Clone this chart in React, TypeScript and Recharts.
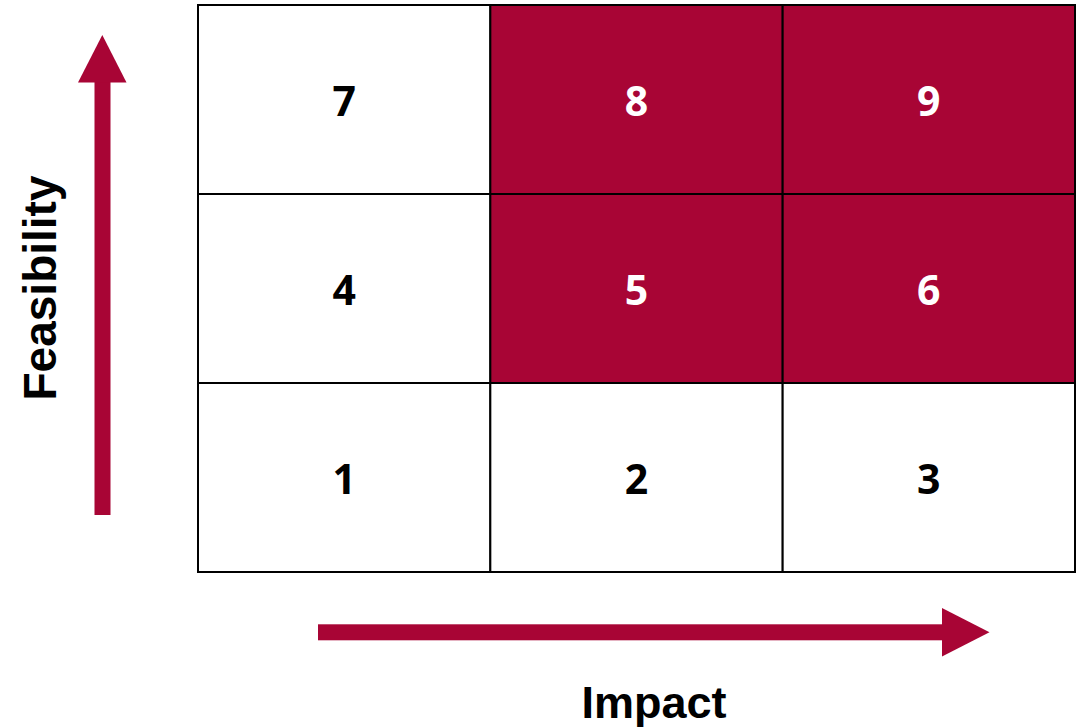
import React from 'react';
import { ComposedChart, XAxis, YAxis, ReferenceArea, Customized } from 'recharts';

const cellLabels = ['1', '2', '3', '4', '5', '6', '7', '8', '9'];
const cellImpact = [1, 2, 3, 1, 2, 3, 1, 2, 3];
const cellFeasibility = [1, 1, 1, 2, 2, 2, 3, 3, 3];
const cellHighlighted = [false, false, false, false, true, true, false, true, true];

const xAxisTitle = 'Impact';
const yAxisTitle = 'Feasibility';

const RED = '#A80535';

const cells = cellLabels.map((label, i) => ({
  label,
  impact: cellImpact[i],
  feasibility: cellFeasibility[i],
  highlighted: cellHighlighted[i],
}));

const Decorations = () => (
  <g>
    {/* vertical arrow */}
    <rect x={94.5} y={82} width={16} height={433} fill={RED} />
    <polygon points="78,82.5 126.5,82.5 102.3,35" fill={RED} />
    {/* horizontal arrow */}
    <rect x={318} y={624.3} width={625} height={16} fill={RED} />
    <polygon points="942,608 942,656.5 989.5,632.3" fill={RED} />
    <text
      x={55.5}
      y={288}
      transform="rotate(-90, 55.5, 288)"
      textAnchor="middle"
      fontFamily="'Liberation Sans', Arial, sans-serif"
      fontWeight="bold"
      fontSize={46}
      fill="#000"
    >
      {yAxisTitle}
    </text>
    <text
      x={654}
      y={718}
      textAnchor="middle"
      fontFamily="'Liberation Sans', Arial, sans-serif"
      fontWeight="bold"
      fontSize={45}
      fill="#000"
    >
      {xAxisTitle}
    </text>
  </g>
);

export default function App() {
  return (
    <div style={{ position: 'fixed', left: 0, top: 0, width: 1076, height: 728, background: '#fff' }}>
      <ComposedChart
        width={1076}
        height={728}
        data={cells}
        margin={{ top: 5, right: 1, bottom: 156, left: 198 }}
      >
        <XAxis type="number" dataKey="impact" domain={[0.5, 3.5]} hide />
        <YAxis type="number" dataKey="feasibility" domain={[0.5, 3.5]} hide />
        {cells.map((c) => (
          <ReferenceArea
            key={c.label}
            x1={c.impact - 0.5}
            x2={c.impact + 0.5}
            y1={c.feasibility - 0.5}
            y2={c.feasibility + 0.5}
            fill={c.highlighted ? RED : '#ffffff'}
            fillOpacity={1}
            stroke="#000"
            strokeWidth={2}
            ifOverflow="visible"
            label={{
              value: c.label,
              position: 'center',
              fill: c.highlighted ? '#ffffff' : '#000000',
              fontSize: 41,
              fontWeight: 'bold',
              fontFamily: "'Noto Sans', 'Open Sans', sans-serif",
              dy: 2,
            }}
          />
        ))}
        <Customized component={<Decorations />} />
      </ComposedChart>
    </div>
  );
}
